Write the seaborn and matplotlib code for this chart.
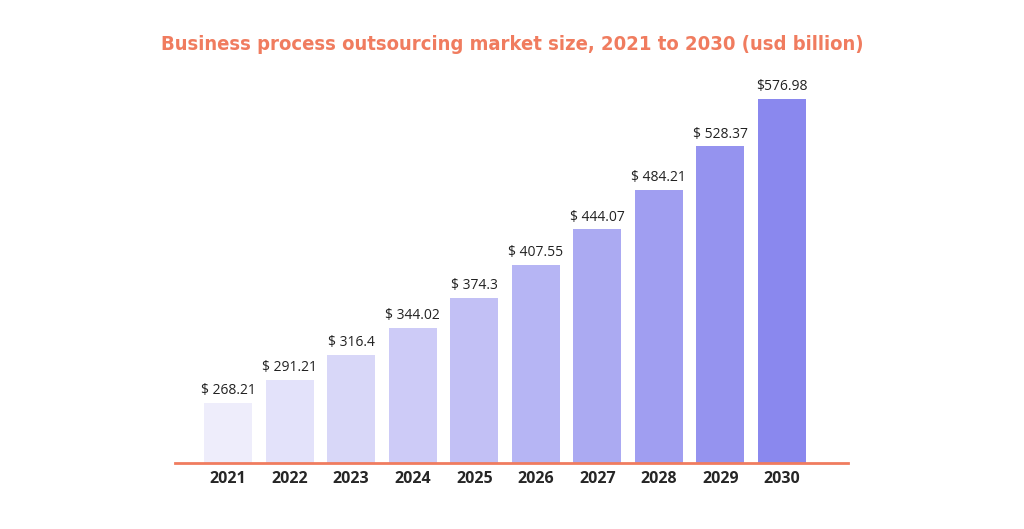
import matplotlib.pyplot as plt
import seaborn as sns
import numpy as np

years = ['2021', '2022', '2023', '2024', '2025', '2026', '2027', '2028', '2029', '2030']
values = [268.21, 291.21, 316.4, 344.02, 374.3, 407.55, 444.07, 484.21, 528.37, 576.98]
labels = ['$ 268.21', '$ 291.21', '$ 316.4', '$ 344.02', '$ 374.3', '$ 407.55',
          '$ 444.07', '$ 484.21', '$ 528.37', '$576.98']

sns.set_style('white')
plt.rcParams['font.family'] = ['Open Sans', 'DejaVu Sans']

c0 = np.array([0xEE, 0xED, 0xFB]) / 255
c1 = np.array([0x8A, 0x88, 0xEE]) / 255
colors = [tuple(c0 + (c1 - c0) * i / 9) for i in range(10)]

fig = plt.figure(figsize=(10.24, 5.29), dpi=100)
ax = fig.add_axes([0.171, 0.125, 0.657, 0.724])
sns.barplot(x=years, y=values, hue=years, palette=colors, legend=False,
            width=0.78, ax=ax, saturation=1, linewidth=0)
ax.set_ylim(207, 596)
ax.set_xlim(-0.86, 10.07)
for i, (v, t) in enumerate(zip(values, labels)):
    ax.text(i, v + 5, t, ha='center', va='bottom', fontsize=10, color='#222222')
for s in ['top', 'right', 'left']:
    ax.spines[s].set_visible(False)
ax.spines['bottom'].set_color('#F07C5F')
ax.spines['bottom'].set_linewidth(2)
ax.set_yticks([])
ax.tick_params(axis='x', length=0, pad=6, labelsize=11.5)
for lbl in ax.get_xticklabels():
    lbl.set_fontweight('bold')
ax.set_xlabel('')
ax.set_ylabel('')
fig.text(0.5, 0.915, 'Business process outsourcing market size, 2021 to 2030 (usd billion)',
         ha='center', va='center', fontsize=14.5, fontweight='bold', color='#F07C5F',
         family=['DejaVu Sans'], fontstretch='condensed')
fig.savefig('out.png', dpi=100)
